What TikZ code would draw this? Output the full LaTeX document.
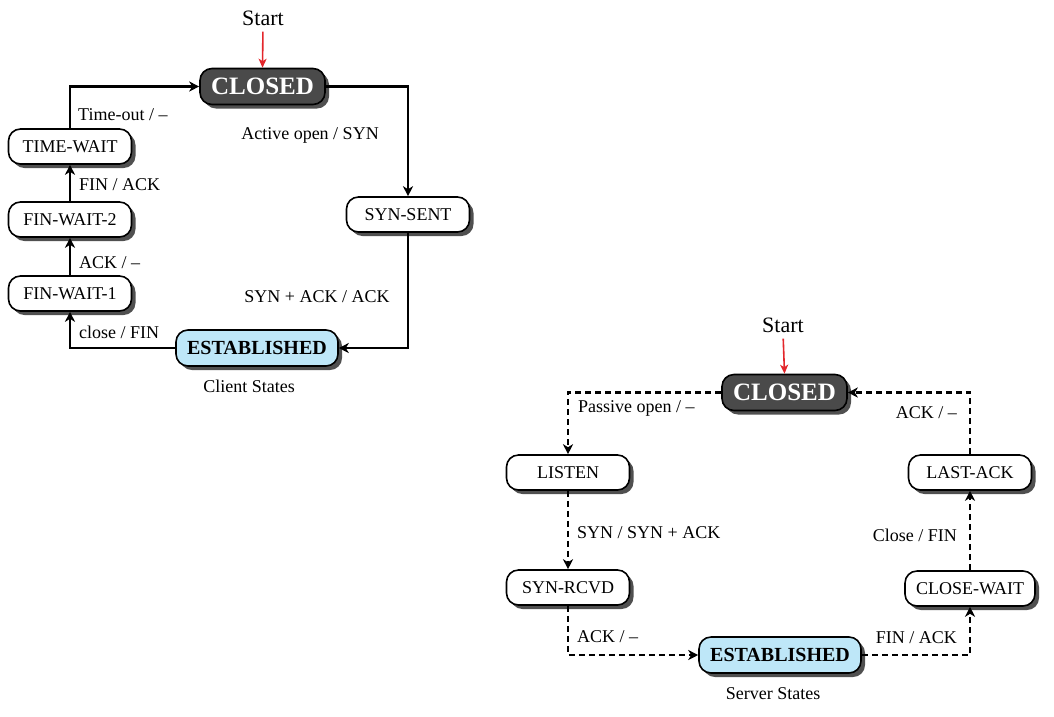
\documentclass[tikz,border=0pt]{standalone}
\usepackage{fontspec}
\setmainfont{Liberation Serif}
\usetikzlibrary{arrows.meta,shadows}
\definecolor{darkbox}{HTML}{4A4A4A}
\definecolor{estab}{HTML}{BEE7F8}
\definecolor{startred}{HTML}{E3262B}
\definecolor{shadowgray}{HTML}{505050}
\begin{document}
\begin{tikzpicture}[x=1pt,y=-1pt,
  state/.style={draw=black, line width=1.6pt, rounded corners=12pt, fill=white,
    minimum height=35pt, minimum width=123pt, inner sep=0pt,
    font=\fontsize{18}{20}\selectfont,
    drop shadow={shadow xshift=4pt, shadow yshift=-4pt, fill=shadowgray, opacity=1}},
  closedst/.style={state, fill=darkbox, text=white,
    font=\fontsize{25}{28}\selectfont\bfseries, minimum width=125pt, minimum height=36pt},
  estst/.style={state, fill=estab, font=\fontsize{20}{22}\selectfont\bfseries,
    minimum width=162pt, minimum height=36pt},
  lbl/.style={font=\fontsize{18}{20}\selectfont, inner sep=0pt},
  startlbl/.style={font=\fontsize{22}{24}\selectfont, inner sep=0pt},
  conn/.style={line width=2.2pt, -{Stealth[length=10pt,width=10pt,inset=3pt]}},
  dconn/.style={conn, dash pattern=on 6pt off 4pt},
  startarrow/.style={draw=startred, line width=1.6pt, shorten <=6pt,
    -{Stealth[length=9pt,width=8pt,inset=2.5pt]}}
]
\useasboundingbox (0,0) rectangle (1054,716);

% ---------------- Client ----------------
\node[startlbl] (start1) at (263,18) {Start};
\node[closedst] (closed1) at (262.5,86.5) {CLOSED};
\node[state] (synsent) at (408,214.5) {SYN-SENT};
\node[estst] (est1) at (257,348) {ESTABLISHED};
\node[state] (fw1) at (70,293.5) {FIN-WAIT-1};
\node[state] (fw2) at (70,219.5) {FIN-WAIT-2};
\node[state] (tw) at (70,146.5) {TIME-WAIT};
\node[lbl] (client) at (249,386) {Client States};

\draw[startarrow] (start1.south) -- (closed1.north);
\draw[conn] (closed1.east) -| (synsent.north);
\draw[conn] (synsent.south) |- (est1.east);
\draw[conn] (est1.west) -| (fw1.south);
\draw[conn] (fw1.north) -- (fw2.south);
\draw[conn] (fw2.north) -- (tw.south);
\draw[conn] (tw.north) |- (closed1.west);

\node[lbl] (l1) at (310,135) {Active open / SYN};
\node[lbl] (l2) at (317,297) {SYN + ACK / ACK};
\node[lbl, anchor=west] (l3) at (79,332) {close / FIN};
\node[lbl, anchor=west] (l4) at (79,263) {ACK / –};
\node[lbl, anchor=west] (l5) at (79,184.5) {FIN / ACK};
\node[lbl, anchor=west] (l6) at (78,115) {Time-out / –};

% ---------------- Server ----------------
\node[startlbl] (start2) at (783,325) {Start};
\node[closedst] (closed2) at (784.5,392.5) {CLOSED};
\node[state] (listen) at (568,472.5) {LISTEN};
\node[state] (synrcvd) at (568,587.5) {SYN-RCVD};
\node[estst] (est2) at (780,655) {ESTABLISHED};
\node[state, minimum width=130pt] (closewait) at (970,588.5) {CLOSE-WAIT};
\node[state] (lastack) at (970,472.5) {LAST-ACK};
\node[lbl] (server) at (773,694) {Server States};

\draw[startarrow] (start2.south) -- (closed2.north);
\draw[dconn] (closed2.west) -| (listen.north);
\draw[dconn] (listen.south) -- (synrcvd.north);
\draw[dconn] (synrcvd.south) |- (est2.west);
\draw[dconn] (est2.east) -| (closewait.south);
\draw[dconn] (closewait.north) -- (lastack.south);
\draw[dconn] (lastack.north) |- (closed2.east);

\node[lbl, anchor=west] (s1) at (578,408) {Passive open / –};
\node[lbl, anchor=west] (s2) at (577,533) {SYN / SYN + ACK};
\node[lbl, anchor=west] (s3) at (577,637) {ACK / –};
\node[lbl, anchor=east] (s4) at (957,638) {FIN / ACK};
\node[lbl, anchor=east] (s5) at (957,535) {Close / FIN};
\node[lbl, anchor=east] (s6) at (957,413) {ACK / –};
\end{tikzpicture}
\end{document}
